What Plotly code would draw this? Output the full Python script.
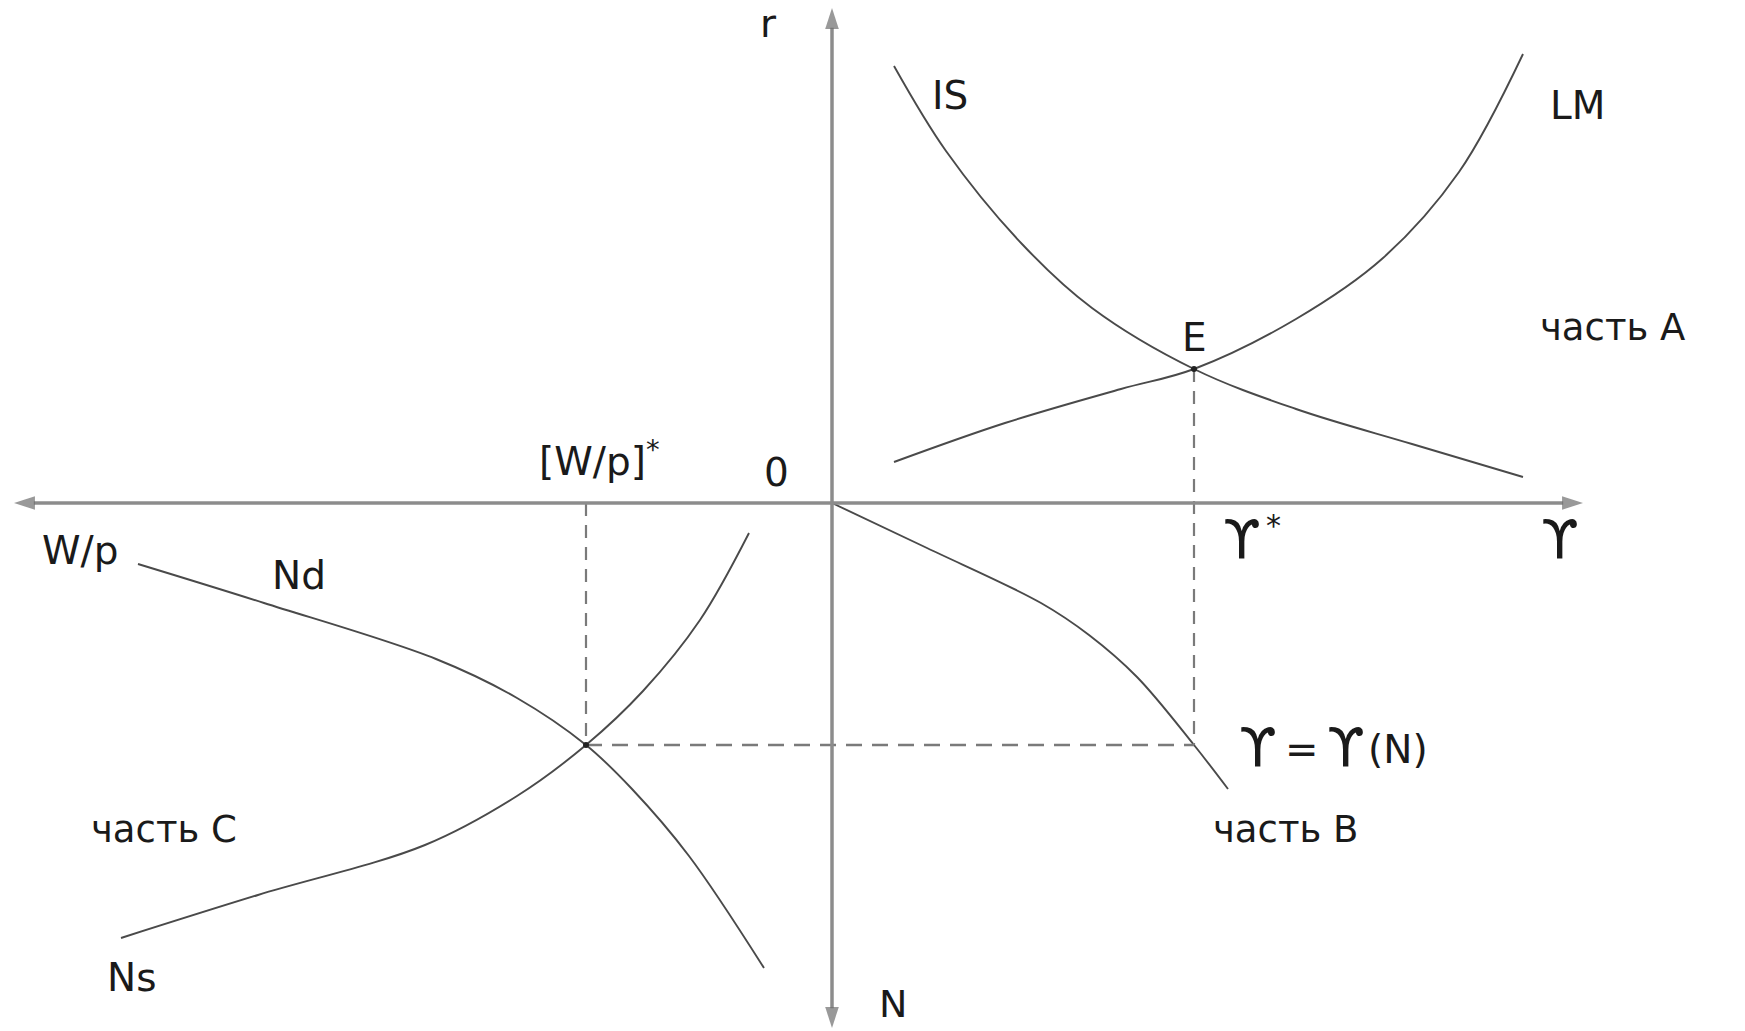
import plotly.graph_objects as go

# ---- data (curve points; origin at axes crossing) ----
IS_x = [62, 114, 190, 260, 362, 464, 580, 691]
IS_y = [437, 352, 259, 195, 134, 94, 59, 26]

LM_x = [62, 173, 289, 362, 464, 551, 627, 691]
LM_y = [41, 80, 114, 134, 184, 245, 331, 449]

YN_x = [0, 95, 209, 257, 305, 362, 396]
YN_y = [0, -45, -100, -132, -174, -242, -286]

Nd_x = [-694, -568, -396, -315, -246, -200, -143, -68]
Nd_y = [-61, -100, -156, -195, -242, -286, -353, -465]

Ns_x = [-711, -574, -407, -315, -246, -189, -132, -83]
Ns_y = [-435, -392, -342, -293, -242, -188, -117, -30]

Y_star = 362
r_star = 134
Wp_star = -246
N_star = -242

axis_x_left, axis_x_right = -818, 751
axis_y_top, axis_y_bottom = 495, -525

# (text, x, y, size)
labels = [
    ("r", -64, 480, 39),
    ("IS", 118, 408, 39),
    ("LM", 745, 398, 39),
    ("E", 362, 166, 39),
    ("часть A", 780, 176, 37),
    ("0", -56, 31, 39),
    ("[W/p]<sup>*</sup>", -233, 44, 39),
    ("W/p", -752, -47, 39),
    ("Nd", -533, -72, 39),
    ("часть C", -668, -326, 37),
    ("Ns", -700, -474, 39),
    ("N", 61, -501, 38),
    ("ϒ", 410, -36, 54),
    ("*", 441, -22, 30),
    ("ϒ", 728, -36, 54),
    ("ϒ", 426, -244, 54),
    ("=", 470, -246, 40),
    ("ϒ", 514, -244, 54),
    ("(N)", 566, -246, 39),
    ("часть B", 453, -326, 37),
]

curve_color = "#4a4a4a"
axis_color = "#8c8c8c"
dash_color = "#7a7a7a"
text_color = "#1a1a1a"
FONT = "DejaVu Sans"

fig = go.Figure()

for xs, ys in [(IS_x, IS_y), (LM_x, LM_y), (YN_x, YN_y), (Nd_x, Nd_y), (Ns_x, Ns_y)]:
    fig.add_trace(go.Scatter(x=xs, y=ys, mode="lines",
                             line=dict(color=curve_color, width=1.9, shape="spline", smoothing=1.0),
                             hoverinfo="skip", showlegend=False))

# dashed guide lines
fig.add_trace(go.Scatter(x=[Y_star, Y_star], y=[r_star, N_star], mode="lines",
                         line=dict(color=dash_color, width=2.2, dash="13px,9px"),
                         hoverinfo="skip", showlegend=False))
fig.add_trace(go.Scatter(x=[Wp_star, Y_star], y=[N_star, N_star], mode="lines",
                         line=dict(color=dash_color, width=2.6, dash="16px,10px"),
                         hoverinfo="skip", showlegend=False))
fig.add_trace(go.Scatter(x=[Wp_star, Wp_star], y=[0, N_star], mode="lines",
                         line=dict(color=dash_color, width=2.2, dash="13px,9px"),
                         hoverinfo="skip", showlegend=False))

# axes: lines from the origin ending in arrowheads
for tx, ty in [(axis_x_right, 0), (axis_x_left, 0), (0, axis_y_top), (0, axis_y_bottom)]:
    fig.add_trace(go.Scatter(x=[0, tx], y=[0, ty], mode="lines+markers",
                             line=dict(color=axis_color, width=3.5),
                             marker=dict(symbol="arrow", size=[0, 22], angleref="previous",
                                         color="#6e6e6e", line=dict(width=0)),
                             hoverinfo="skip", showlegend=False))

# equilibrium points
fig.add_trace(go.Scatter(x=[Y_star, Wp_star], y=[r_star, N_star], mode="markers",
                         marker=dict(color="#222", size=6),
                         hoverinfo="skip", showlegend=False))

for txt, x, y, size in labels:
    fig.add_annotation(x=x, y=y, xref="x", yref="y", text=txt, showarrow=False,
                       font=dict(family=FONT, size=size, color=text_color),
                       xanchor="center", yanchor="middle")

fig.update_layout(
    width=1745, height=1031, autosize=False,
    margin=dict(l=0, r=0, t=0, b=0),
    paper_bgcolor="white", plot_bgcolor="white",
    xaxis=dict(range=[-832, 913], visible=False, fixedrange=True),
    yaxis=dict(range=[-528, 503], visible=False, fixedrange=True),
    showlegend=False,
)

fig.write_html("out.html", config={"displayModeBar": False},
               post_script="document.body.style.margin='0';document.body.style.padding='0';"
                           "document.body.style.overflow='hidden';")
